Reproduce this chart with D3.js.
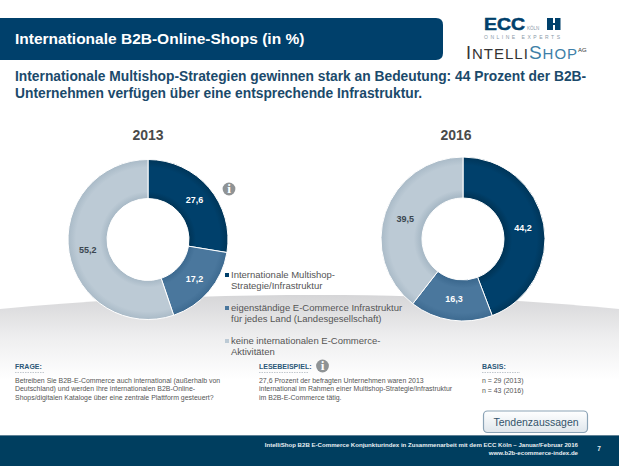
<!DOCTYPE html>
<html>
<head>
<meta charset="utf-8">
<script src="https://cdnjs.cloudflare.com/ajax/libs/d3/7.8.5/d3.min.js"></script>
<style>
  html, body { margin: 0; padding: 0; background: #fff; }
  svg { display: block; font-family: "Liberation Sans", Arial, sans-serif; }
</style>
</head>
<body>
<div id="chart"></div>
<script>
// Chart values
const years = ["2013", "2016"];
const categories = ["multishop", "eigenstaendig", "keine"];
const values2013 = [27.6, 17.2, 55.2];
const values2016 = [44.2, 16.3, 39.5];
const legendLabels = [
  ["Internationale Multishop-", "Strategie/Infrastruktur"],
  ["eigenständige E-Commerce Infrastruktur", "für jedes Land (Landesgesellschaft)"],
  ["keine internationalen E-Commerce-", "Aktivitäten"]
];
const frageLines = [
  "Betreiben Sie B2B-E-Commerce auch international (außerhalb von",
  "Deutschland) und werden Ihre internationalen B2B-Online-",
  "Shops/digitalen Kataloge über eine zentrale Plattform gesteuert?"
];
const beispielLines = [
  "27,6 Prozent der befragten Unternehmen waren 2013",
  "international im Rahmen einer Multishop-Strategie/Infrastruktur",
  "im B2B-E-Commerce tätig."
];
const basisLines = ["n = 29 (2013)", "n = 43 (2016)"];

const width = 619, height = 466;
const navy = "#00406b";
const colorScale = d3.scaleOrdinal().domain(categories).range([navy, "#4a779d", "#bccad5"]);
const edgeColor = d3.scaleOrdinal().domain(categories).range(["#003558", "#3d6a90", "#a9bac7"]);

const svg = d3.select("#chart").append("svg")
  .attr("width", width).attr("height", height);

// Grey swoosh behind the lower part of the slide
const defs = svg.append("defs");
const fade = defs.append("linearGradient").attr("id", "fade")
  .attr("x1", 0).attr("y1", 0).attr("x2", 0).attr("y2", 1);
fade.append("stop").attr("offset", 0).attr("stop-color", "#d6d6d8");
fade.append("stop").attr("offset", 0.3).attr("stop-color", "#eeeeef");
fade.append("stop").attr("offset", 0.6).attr("stop-color", "#ffffff");
const btn = defs.append("linearGradient").attr("id", "btn")
  .attr("x1", 0).attr("y1", 0).attr("x2", 0).attr("y2", 1);
btn.append("stop").attr("offset", 0).attr("stop-color", "#ffffff");
btn.append("stop").attr("offset", 1).attr("stop-color", "#dfe6ec");

svg.append("path")
  .attr("d", "M0,309 C110,298 220,295 320,295 C420,295 530,300 619,309 L619,436 L0,436 Z")
  .attr("fill", "url(#fade)");

// Header band
svg.append("path")
  .attr("d", "M0,18 H436 Q443,18 443,25 V53 Q443,60 436,60 H0 Z")
  .attr("fill", navy);
svg.append("text").attr("x", 15).attr("y", 44)
  .attr("fill", "#fff").attr("font-size", 15.5).attr("font-weight", "bold")
  .text("Internationale B2B-Online-Shops (in %)");

// Logos
svg.append("text").attr("x", 484).attr("y", 30)
  .attr("fill", navy).attr("font-size", 17).attr("font-weight", "bold")
  .attr("stroke", navy).attr("stroke-width", 0.5)
  .attr("textLength", 41).attr("lengthAdjust", "spacingAndGlyphs").text("ECC");
svg.append("text").attr("x", 527).attr("y", 30)
  .attr("fill", "#8a9aa8").attr("font-size", 4.5).text("KÖLN");
svg.append("rect").attr("x", 547).attr("y", 18).attr("width", 6).attr("height", 12).attr("fill", navy);
svg.append("rect").attr("x", 555).attr("y", 18).attr("width", 5.5).attr("height", 12).attr("fill", navy);
svg.append("rect").attr("x", 553).attr("y", 23).attr("width", 2).attr("height", 2).attr("fill", navy);
svg.append("text").attr("x", 484).attr("y", 38.5)
  .attr("fill", "#8a9aa8").attr("font-size", 5)
  .attr("textLength", 76).text("ONLINE EXPERTS");
const logo = svg.append("text").attr("x", 466).attr("y", 59)
  .attr("fill", "#333").attr("font-size", 15).attr("letter-spacing", 1);
logo.append("tspan").attr("font-size", 18).text("I");
logo.append("tspan").text("NTELLI");
logo.append("tspan").attr("fill", "#3d7fa8").attr("font-size", 19).text("S");
logo.append("tspan").attr("fill", "#3d7fa8").text("HOP");
logo.append("tspan").attr("font-size", 6).attr("dy", -7).attr("letter-spacing", 0).text("AG");

// Headline
svg.selectAll(".headline")
  .data(["Internationale Multishop-Strategien gewinnen stark an Bedeutung: 44 Prozent der B2B-",
         "Unternehmen verfügen über eine entsprechende Infrastruktur."])
  .enter().append("text")
  .attr("class", "headline")
  .attr("x", 15).attr("y", (d, i) => 81 + i * 17)
  .attr("fill", "#1b4a6b").attr("font-size", 13.8).attr("font-weight", "bold")
  .text(d => d);

// Donuts
const pie = d3.pie().sort(null);

function drawDonut(id, cx, cy, radius, labelX, year, values) {
  const arc = d3.arc().innerRadius(41).outerRadius(radius);
  const labelArc = d3.arc().innerRadius(61).outerRadius(61);
  // slight darkening towards the outer rim of each slice
  categories.forEach(c => {
    const grad = defs.append("radialGradient").attr("id", `${id}-${c}`)
      .attr("gradientUnits", "userSpaceOnUse")
      .attr("cx", 0).attr("cy", 0).attr("r", radius);
    grad.append("stop").attr("offset", 0.52).attr("stop-color", edgeColor(c));
    grad.append("stop").attr("offset", 0.6).attr("stop-color", colorScale(c));
    grad.append("stop").attr("offset", 0.9).attr("stop-color", colorScale(c));
    grad.append("stop").attr("offset", 1).attr("stop-color", edgeColor(c));
  });
  const g = svg.append("g").attr("transform", `translate(${cx},${cy})`);
  const slices = pie(values);
  g.selectAll("path").data(slices).enter().append("path")
    .attr("d", arc)
    .attr("fill", (d, i) => `url(#${id}-${categories[i]})`)
    .attr("stroke", "#fff").attr("stroke-width", 1);
  g.selectAll("text.val").data(slices).enter().append("text")
    .attr("class", "val")
    .attr("transform", d => `translate(${labelArc.centroid(d)})`)
    .attr("dy", "0.35em").attr("text-anchor", "middle")
    .attr("font-size", 9).attr("font-weight", "bold")
    .attr("fill", (d, i) => i === 2 ? "#3a4650" : "#fff")
    .text(d => String(d.data).replace(".", ","));
  svg.append("text").attr("x", labelX).attr("y", 140).attr("text-anchor", "middle")
    .attr("font-size", 14).attr("font-weight", "bold").attr("fill", "#4a4a4a")
    .text(year);
}
drawDonut("d13", 148, 239.5, 80, 148, years[0], values2013);
drawDonut("d16", 463, 239, 82, 456, years[1], values2016);

// Info icon
function infoIcon(x, y, r) {
  svg.append("circle").attr("cx", x).attr("cy", y).attr("r", r).attr("fill", "#8f9395");
  svg.append("text").attr("x", x).attr("y", y + r * 0.68).attr("text-anchor", "middle")
    .attr("font-family", "Liberation Serif, serif").attr("font-weight", "bold")
    .attr("font-size", r * 2.1).attr("fill", "#fff").text("i");
}
infoIcon(229, 189, 6.4);
infoIcon(322.5, 366, 6.4);

// Legend
const legendY = d3.scalePoint().domain(categories).range([278, 344]);
categories.forEach((c, i) => {
  const y = legendY(c);
  svg.append("rect").attr("x", 225).attr("y", y - 5).attr("width", 4).attr("height", 4)
    .attr("fill", colorScale(c));
  legendLabels[i].forEach((line, j) => {
    svg.append("text").attr("x", 231).attr("y", y + j * 11)
      .attr("font-size", 9.5).attr("fill", "#555").text(line);
  });
});

// Footer notes
function note(x, title, lines, lineH, ruleW) {
  svg.append("text").attr("x", x).attr("y", 369).attr("font-size", 7)
    .attr("font-weight", "bold").attr("fill", "#2b5878").text(title);
  svg.append("line").attr("x1", x).attr("x2", x + ruleW).attr("y1", 372.5).attr("y2", 372.5)
    .attr("stroke", "#9aa5ae").attr("stroke-width", 0.6).attr("stroke-dasharray", "1.5,1");
  svg.selectAll(null).data(lines).enter().append("text")
    .attr("x", x).attr("y", (d, i) => 382.5 + i * lineH)
    .attr("font-size", 6.95).attr("fill", "#555").text(d => d);
}
note(15, "FRAGE:", frageLines, 8.8, 30);
note(259, "LESEBEISPIEL:", beispielLines, 8.8, 50);
note(482, "BASIS:", basisLines, 10.5, 38);

// Button
svg.append("rect").attr("x", 483.5).attr("y", 411).attr("width", 104).attr("height", 21.5).attr("rx", 4)
  .attr("fill", "url(#btn)").attr("stroke", "#8ba3b6").attr("stroke-width", 1.2);
svg.append("text").attr("x", 536).attr("y", 425.5).attr("text-anchor", "middle")
  .attr("font-size", 10.5).attr("fill", "#33536b").text("Tendenzaussagen");

// Footer band
svg.append("rect").attr("x", 0).attr("y", 435).attr("width", width).attr("height", 31).attr("fill", "#003e5f");
svg.append("rect").attr("x", 0).attr("y", 435).attr("width", width).attr("height", 1).attr("fill", "#5f8296");
svg.append("text").attr("x", 578).attr("y", 447).attr("text-anchor", "end")
  .attr("font-size", 6.1).attr("font-weight", "bold").attr("fill", "#e8eef2")
  .text("IntelliShop B2B E-Commerce Konjunkturindex in Zusammenarbeit mit dem ECC Köln –  Januar/Februar 2016");
svg.append("text").attr("x", 578).attr("y", 455).attr("text-anchor", "end")
  .attr("font-size", 6.1).attr("font-weight", "bold").attr("fill", "#e8eef2")
  .text("www.b2b-ecommerce-index.de");
svg.append("text").attr("x", 599).attr("y", 451).attr("text-anchor", "middle")
  .attr("font-size", 6.5).attr("font-weight", "bold").attr("fill", "#e8eef2").text("7");
</script>
</body>
</html>
